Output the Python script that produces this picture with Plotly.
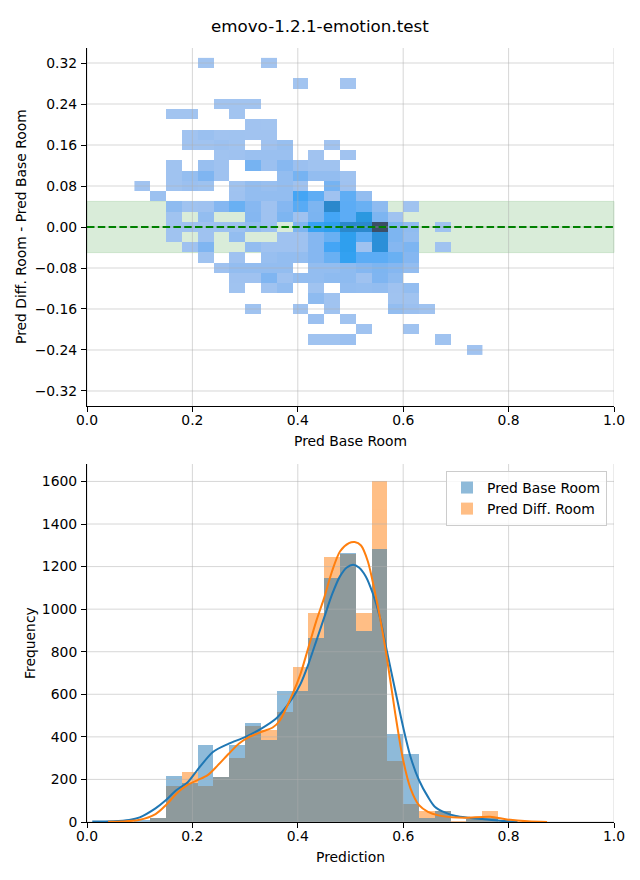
import plotly.graph_objects as go

# ---------------- data ----------------
title_text = "emovo-1.2.1-emotion.test"

# bottom histogram (bin width 0.03, left edges)
hist_bin_width = 0.03
hist_bin_left = [0.09, 0.12, 0.15, 0.18, 0.21, 0.24, 0.27, 0.30, 0.33, 0.36, 0.39,
                 0.42, 0.45, 0.48, 0.51, 0.54, 0.57, 0.60, 0.63, 0.66, 0.69, 0.72,
                 0.75, 0.78]
base_counts = [6, 19, 215, 184, 364, 213, 364, 467, 383, 617, 617,
               866, 1145, 1263, 897, 1283, 414, 318, 17, 51, 0, 12,
               17, 0]
diff_counts = [0, 17, 170, 234, 168, 212, 299, 449, 433, 516, 729,
               981, 1243, 1260, 981, 1600, 285, 84, 51, 50, 3, 12,
               51, 4]

# KDE curves (scaled to counts)
kde_base_x = [0.01, 0.05, 0.08, 0.10, 0.13, 0.15, 0.17, 0.19, 0.209, 0.239, 0.269,
              0.30, 0.33, 0.36, 0.39, 0.405, 0.42, 0.435, 0.45, 0.465, 0.48, 0.493,
              0.505, 0.516, 0.529, 0.542, 0.556, 0.569, 0.585, 0.60, 0.614, 0.63,
              0.647, 0.66, 0.68, 0.70, 0.725, 0.75, 0.784, 0.817]
kde_base_y = [2, 4, 10, 22, 64, 103, 150, 184, 243, 329, 368,
              399, 438, 489, 583, 648, 741, 850, 960, 1069, 1154, 1196,
              1209, 1196, 1154, 1076, 960, 804, 617, 445, 305, 196,
              118, 72, 44, 28, 20, 14, 6, 2]
kde_diff_x = [0.04, 0.065, 0.098, 0.13, 0.15, 0.17, 0.19, 0.209, 0.229, 0.248, 0.269,
              0.288, 0.307, 0.33, 0.353, 0.366, 0.39, 0.405, 0.42, 0.435, 0.45,
              0.465, 0.48, 0.497, 0.508, 0.52, 0.533, 0.546, 0.556, 0.569, 0.585,
              0.60, 0.614, 0.63, 0.647, 0.667, 0.693, 0.719, 0.765, 0.797, 0.837, 0.873]
kde_diff_y = [1, 2, 9, 37, 80, 134, 173, 196, 220, 266, 321,
              368, 399, 422, 445, 477, 601, 695, 819, 944, 1053,
              1178, 1271, 1310, 1315, 1299, 1224, 1084, 960, 773, 508,
              290, 157, 79, 48, 31, 22, 20, 25, 12, 3, 0]

# 2D histogram cells: (x bin index, y bin index, count); x bin 0.03 wide, y bin 0.02 tall
hm_x_bin = 0.03
hm_y_bin = 0.02
_cells = [
    (7, 16, 6), (11, 16, 5),
    (13, 14, 6), (16, 14, 5),
    (8, 12, 7), (9, 12, 6), (10, 12, 6),
    (5, 11, 6), (6, 11, 7), (9, 11, 6),
    (10, 10, 8), (11, 10, 7),
    (6, 9, 8), (7, 9, 22), (8, 9, 9), (9, 9, 10), (10, 9, 9), (11, 9, 8),
    (6, 8, 9), (7, 8, 10), (8, 8, 18), (9, 8, 10), (11, 8, 12), (12, 8, 28), (15, 8, 8),
    (8, 7, 10), (9, 7, 12), (10, 7, 22), (11, 7, 22), (12, 7, 22), (14, 7, 8), (16, 7, 8),
    (5, 6, 10), (7, 6, 25), (8, 6, 12), (10, 6, 100), (11, 6, 20), (12, 6, 60), (13, 6, 20),
    (14, 6, 10), (15, 6, 10),
    (5, 5, 10), (6, 5, 30), (7, 5, 80), (8, 5, 12), (12, 5, 35), (13, 5, 100), (14, 5, 35),
    (15, 5, 35), (16, 5, 10),
    (3, 4, 8), (5, 4, 10), (6, 4, 20), (7, 4, 15), (9, 4, 10), (10, 4, 35), (11, 4, 25),
    (12, 4, 35), (13, 4, 12), (15, 4, 100), (16, 4, 12),
    (4, 3, 18), (9, 3, 12), (10, 3, 35), (11, 3, 35), (12, 3, 35), (13, 3, 175), (14, 3, 140),
    (15, 3, 12), (16, 3, 140), (17, 3, 35),
    (5, 2, 45), (6, 2, 10), (7, 2, 12), (8, 2, 65), (9, 2, 125), (10, 2, 60), (11, 2, 12),
    (12, 2, 65), (13, 2, 150), (14, 2, 85), (15, 2, 290), (16, 2, 145), (17, 2, 125),
    (18, 2, 45), (20, 2, 10),
    (5, 1, 10), (7, 1, 35), (10, 1, 65), (11, 1, 12), (12, 1, 85), (13, 1, 12), (14, 1, 90),
    (15, 1, 175), (16, 1, 145), (17, 1, 245), (18, 1, 85), (19, 1, 10),
    (5, 0, 10), (6, 0, 12), (7, 0, 12), (8, 0, 15), (9, 0, 15), (10, 0, 35), (11, 0, 15),
    (13, 0, 85), (14, 0, 200), (15, 0, 215), (16, 0, 290), (17, 0, 285), (18, 0, 420),
    (19, 0, 85), (20, 0, 40), (22, 0, 10),
    (5, -1, 10), (7, -1, 12), (9, -1, 35), (12, -1, 12), (13, -1, 12), (14, -1, 65),
    (15, -1, 125), (16, -1, 215), (17, -1, 145), (18, -1, 265), (19, -1, 85), (20, -1, 35),
    (6, -2, 12), (7, -2, 80), (10, -2, 35), (11, -2, 12), (12, -2, 12), (13, -2, 12),
    (14, -2, 65), (15, -2, 175), (16, -2, 215), (17, -2, 12), (18, -2, 265), (19, -2, 65),
    (20, -2, 85), (22, -2, 10),
    (7, -3, 10), (9, -3, 12), (11, -3, 25), (12, -3, 35), (13, -3, 35), (14, -3, 65),
    (15, -3, 125), (16, -3, 205), (17, -3, 145), (18, -3, 145), (19, -3, 125), (20, -3, 65),
    (8, -4, 12), (9, -4, 35), (10, -4, 35), (11, -4, 35), (12, -4, 35), (14, -4, 35),
    (15, -4, 35), (16, -4, 45), (17, -4, 65), (18, -4, 85), (19, -4, 65), (20, -4, 35),
    (9, -5, 12), (10, -5, 12), (11, -5, 80), (12, -5, 12), (13, -5, 35), (14, -5, 35),
    (15, -5, 45), (16, -5, 45), (17, -5, 12), (18, -5, 80), (19, -5, 45),
    (9, -6, 10), (11, -6, 10), (12, -6, 35), (14, -6, 10), (16, -6, 35), (17, -6, 30),
    (18, -6, 35), (19, -6, 12), (20, -6, 35),
    (14, -7, 45), (15, -7, 10), (19, -7, 10), (20, -7, 10),
    (10, -8, 10), (13, -8, 10), (15, -8, 10), (19, -8, 35), (20, -8, 20), (21, -8, 10),
    (14, -9, 20), (16, -9, 10),
    (17, -10, 10), (20, -10, 10),
    (14, -11, 10), (15, -11, 10), (16, -11, 20), (22, -11, 10),
    (24, -12, 8),
]
hm_cells_i = [c[0] for c in _cells]
hm_cells_j = [c[1] for c in _cells]
hm_count = [c[2] for c in _cells]
hm_x_left = [round(i * hm_x_bin, 4) for i in hm_cells_i]
hm_y_mid = [round(j * hm_y_bin, 4) for j in hm_cells_j]

band_half_width = 0.05
ref_line_y = 0.0

x_ticks = [0.0, 0.2, 0.4, 0.6, 0.8, 1.0]
top_y_ticks = [-0.32, -0.24, -0.16, -0.08, 0.0, 0.08, 0.16, 0.24, 0.32]
bottom_y_ticks = [0, 200, 400, 600, 800, 1000, 1200, 1400, 1600]

# ---------------- build heatmap grid ----------------
imin, imax = min(hm_cells_i), max(hm_cells_i)
jmin, jmax = min(hm_cells_j), max(hm_cells_j)
x_edges = [round((imin + k) * hm_x_bin, 4) for k in range(imax - imin + 2)]
y_edges = [round((jmin + k) * hm_y_bin - hm_y_bin / 2, 4) for k in range(jmax - jmin + 2)]
z = [[None] * (imax - imin + 1) for _ in range(jmax - jmin + 1)]
for xl, ym, c in zip(hm_x_left, hm_y_mid, hm_count):
    ix = int(round(xl / hm_x_bin)) - imin
    iy = int(round(ym / hm_y_bin)) - jmin
    z[iy][ix] = c

cmap = [
    [0.0, '#a5c5f0'], [0.08, '#93bdf0'], [0.15, '#85b7f1'], [0.2, '#7db5f1'],
    [0.25, '#73b2f2'], [0.3, '#68b0f3'], [0.35, '#5aabf5'], [0.42, '#42a5f5'],
    [0.5, '#30a0f0'], [0.58, '#2b98e0'], [0.63, '#2b8fd8'], [0.69, '#2b88cc'],
    [1.0, '#3c4e66'],
]

FONT = "DejaVu Sans"
TICK_PX = 13.9
GRID = 'rgba(176,176,176,0.5)'
# the page body has an 8px margin, so the figure starts at (8, 8) in the window
OFF = 8
W, H = 640 - OFF, 880 - OFF
L, R = 87, 614
TOP_T, TOP_B = 48, 406
BOT_T, BOT_B = 464, 822


def px(xp):
    return (xp - OFF) / W


def py(yp):
    return 1 - (yp - OFF) / H


top_yr = [-0.3493, 0.3493]
bot_yr = [0, 1682]

fig = go.Figure()

# ---- top: 2D histogram ----
fig.add_trace(go.Heatmap(
    x=x_edges, y=y_edges, z=z, colorscale=cmap, zmin=1, zmax=max(hm_count),
    showscale=False, xaxis='x', yaxis='y', hoverongaps=False,
))

# top grid (above heatmap)
gx, gy = [], []
for v in x_ticks:
    gx += [v, v, None]
    gy += [top_yr[0], top_yr[1], None]
for v in top_y_ticks:
    gx += [0, 1, None]
    gy += [v, v, None]
fig.add_trace(go.Scatter(x=gx, y=gy, mode='lines', line=dict(color=GRID, width=1),
                         hoverinfo='skip', showlegend=False, xaxis='x', yaxis='y'))

# dashed reference line
fig.add_trace(go.Scatter(x=[0, 1], y=[ref_line_y, ref_line_y], mode='lines',
                         line=dict(color='green', width=2, dash='7.5px,3.3px'),
                         hoverinfo='skip', showlegend=False, xaxis='x', yaxis='y'))

# ---- bottom: histograms ----
centers = [round(b + hist_bin_width / 2, 4) for b in hist_bin_left]
fig.add_trace(go.Bar(x=centers, y=diff_counts, width=hist_bin_width, name='Pred Diff. Room',
                     marker=dict(color='#ff7f0e', line=dict(width=0)), opacity=0.5,
                     xaxis='x2', yaxis='y2', legendrank=2))
fig.add_trace(go.Bar(x=centers, y=base_counts, width=hist_bin_width, name='Pred Base Room',
                     marker=dict(color='#1f77b4', line=dict(width=0)), opacity=0.5,
                     xaxis='x2', yaxis='y2', legendrank=1))

gx, gy = [], []
for v in x_ticks:
    gx += [v, v, None]
    gy += [bot_yr[0], bot_yr[1], None]
for v in bottom_y_ticks:
    gx += [0, 1, None]
    gy += [v, v, None]
fig.add_trace(go.Scatter(x=gx, y=gy, mode='lines', line=dict(color=GRID, width=1),
                         hoverinfo='skip', showlegend=False, xaxis='x2', yaxis='y2'))

fig.add_trace(go.Scatter(x=kde_base_x, y=kde_base_y, mode='lines',
                         line=dict(color='#1f77b4', width=2, shape='spline', smoothing=0.8),
                         showlegend=False, xaxis='x2', yaxis='y2'))
fig.add_trace(go.Scatter(x=kde_diff_x, y=kde_diff_y, mode='lines',
                         line=dict(color='#ff7f0e', width=2, shape='spline', smoothing=0.8),
                         showlegend=False, xaxis='x2', yaxis='y2'))


def fmt_top(v):
    s = f"{abs(v):.2f}"
    return ("\u2212" + s) if v < 0 else s


axis_common = dict(
    showline=True, linecolor='black', linewidth=1, mirror=False,
    ticks='outside', ticklen=5, tickwidth=1, tickcolor='black',
    showgrid=False, zeroline=False, automargin=False,
    tickfont=dict(family=FONT, size=TICK_PX, color='black'),
)

xdom = [px(L), px(R)]
fig.update_layout(
    width=W, height=H,
    margin=dict(l=0, r=0, t=0, b=0, autoexpand=False),
    paper_bgcolor='white', plot_bgcolor='white',
    barmode='overlay', bargap=0,
    font=dict(family=FONT, size=TICK_PX, color='black'),
    xaxis=dict(domain=xdom, anchor='y', range=[0, 1], tickvals=x_ticks,
               ticktext=[f"{v:.1f}" for v in x_ticks], ticklabelstandoff=-4, **axis_common),
    yaxis=dict(domain=[py(TOP_B), py(TOP_T)], anchor='x', range=top_yr,
               tickvals=top_y_ticks, ticktext=[fmt_top(v) for v in top_y_ticks],
               ticklabelstandoff=1, **axis_common),
    xaxis2=dict(domain=xdom, anchor='y2', range=[0, 1], tickvals=x_ticks,
                ticktext=[f"{v:.1f}" for v in x_ticks], ticklabelstandoff=-4, **axis_common),
    yaxis2=dict(domain=[py(BOT_B), py(BOT_T)], anchor='x2', range=bot_yr,
                tickvals=bottom_y_ticks, ticktext=[str(v) for v in bottom_y_ticks],
                ticklabelstandoff=1, **axis_common),
    legend=dict(x=px(607), xanchor='right', y=py(471), yanchor='top',
                bgcolor='rgba(255,255,255,0.8)', bordercolor='#cccccc', borderwidth=1,
                font=dict(family=FONT, size=TICK_PX, color='black'),
                tracegroupgap=0, itemwidth=30),
    shapes=[
        dict(type='rect', xref='x domain', yref='y', x0=0, x1=1,
             y0=-band_half_width, y1=band_half_width,
             fillcolor='rgba(0,128,0,0.15)', line=dict(color='rgba(0,128,0,0.15)', width=1),
             layer='below'),
    ],
    annotations=[
        dict(text=title_text, x=px(320), y=py(26), xref='paper', yref='paper',
             showarrow=False, xanchor='center', yanchor='middle',
             font=dict(family=FONT, size=16.7, color='black')),
        dict(text="Pred Base Room", x=px((L + R) / 2), y=py(441), xref='paper', yref='paper',
             showarrow=False, xanchor='center', yanchor='middle',
             font=dict(family=FONT, size=TICK_PX, color='black')),
        dict(text="Pred Diff. Room - Pred Base Room", x=px(21), y=py((TOP_T + TOP_B) / 2),
             xref='paper', yref='paper', showarrow=False, textangle=-90,
             xanchor='center', yanchor='middle',
             font=dict(family=FONT, size=TICK_PX, color='black')),
        dict(text="Prediction", x=px((L + R) / 2), y=py(857), xref='paper', yref='paper',
             showarrow=False, xanchor='center', yanchor='middle',
             font=dict(family=FONT, size=TICK_PX, color='black')),
        dict(text="Frequency", x=px(30), y=py((BOT_T + BOT_B) / 2),
             xref='paper', yref='paper', showarrow=False, textangle=-90,
             xanchor='center', yanchor='middle',
             font=dict(family=FONT, size=TICK_PX, color='black')),
    ],
)

fig.write_html("out.html")
